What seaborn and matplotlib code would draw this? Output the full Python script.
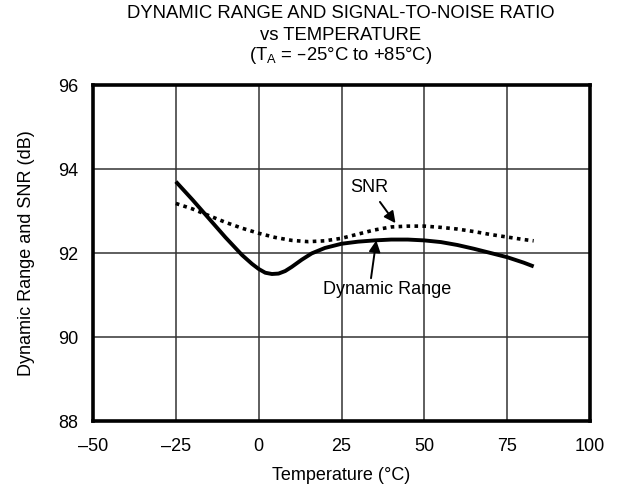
"""Dynamic range and SNR vs temperature chart."""

import matplotlib
matplotlib.use("Agg")
import matplotlib.pyplot as plt
import pandas as pd
import seaborn as sns

# Data
dr_temp = [-25, -20, -15, -10, -5, -2, 0, 2, 4, 6, 8, 10, 13, 16, 20, 25, 30, 35, 40, 45, 50, 55, 60, 65, 70, 75, 80, 83]
dr_db = [93.7, 93.27, 92.82, 92.37, 91.95, 91.74, 91.62, 91.53, 91.5, 91.51, 91.57, 91.67, 91.84, 91.99, 92.12, 92.22, 92.27, 92.3, 92.32, 92.32, 92.3, 92.26, 92.19, 92.1, 92.0, 91.9, 91.77, 91.68]

snr_temp = [-25, -20, -15, -10, -5, 0, 5, 10, 15, 20, 25, 30, 35, 40, 45, 50, 55, 60, 65, 70, 75, 80, 83]
snr_db = [93.18, 93.05, 92.89, 92.73, 92.59, 92.47, 92.37, 92.3, 92.27, 92.29, 92.35, 92.45, 92.55, 92.62, 92.64, 92.64, 92.61, 92.57, 92.51, 92.44, 92.38, 92.32, 92.29]

x_ticks = [-50, -25, 0, 25, 50, 75, 100]
y_ticks = [88, 90, 92, 94, 96]

dr_df = pd.DataFrame({"Temperature": dr_temp, "dB": dr_db})
snr_df = pd.DataFrame({"Temperature": snr_temp, "dB": snr_db})

sns.set_style("white")
plt.rcParams["font.family"] = ["Liberation Sans", "DejaVu Sans"]
plt.rcParams["text.color"] = "black"
plt.rcParams["axes.labelcolor"] = "black"
plt.rcParams["xtick.color"] = "black"
plt.rcParams["ytick.color"] = "black"

fs = 13

W, H = 622, 487
fig = plt.figure(figsize=(W / 100, H / 100), dpi=100)
ax = fig.add_axes([93 / W, 1 - 421 / H, 497 / W, 336 / H])

sns.lineplot(data=dr_df, x="Temperature", y="dB", ax=ax, color="black", linewidth=2.8,
             solid_joinstyle="round", solid_capstyle="butt")
sns.lineplot(data=snr_df, x="Temperature", y="dB", ax=ax, color="black", linewidth=2.6,
             linestyle=(0, (1.0, 1.2)))

ax.set_xlim(-50, 100)
ax.set_ylim(88, 96)
ax.set_xticks(x_ticks)
ax.set_yticks(y_ticks)
ax.set_xticklabels([f"{t}".replace("-", "\u2013") for t in x_ticks], fontsize=fs)
ax.set_yticklabels([str(t) for t in y_ticks], fontsize=fs)
ax.tick_params(axis="y", length=0, pad=10.5)
ax.tick_params(axis="x", length=0, pad=12)
ax.grid(True, color="#333333", linewidth=1.1)
for s in ax.spines.values():
    s.set_linewidth(2.6)
    s.set_color("black")

ax.set_xlabel("Temperature (\u00b0C)", fontsize=fs, labelpad=9)
ax.set_ylabel("Dynamic Range and SNR (dB)", fontsize=fs, labelpad=17)

# Title block
tx = 341 / W
fig.text(tx, 1 - 13 / H, "DYNAMIC RANGE AND SIGNAL-TO-NOISE RATIO", ha="center", va="center", fontsize=13.3)
fig.text(tx, 1 - 36 / H, "vs TEMPERATURE", ha="center", va="center", fontsize=13.3)
fig.text(tx, 1 - 56 / H, "(T$_\\mathregular{A}$ = \u201325\u00b0C to +85\u00b0C)", ha="center", va="center", fontsize=13.3)

# Annotations
ax.annotate("SNR", xy=(41.3, 92.71), xytext=(33.5, 93.55), ha="center", va="center", fontsize=fs,
            arrowprops=dict(arrowstyle="-|>", color="black", lw=1.4, shrinkA=2, shrinkB=0,
                            mutation_scale=17))
ax.annotate("Dynamic Range", xy=(35.5, 92.3), xytext=(38.8, 91.12), ha="center", va="center", fontsize=fs,
            arrowprops=dict(arrowstyle="-|>", color="black", lw=1.4, shrinkA=0, shrinkB=0,
                            mutation_scale=17, relpos=(0.37, 1.0)))

fig.savefig("out.png", dpi=100)
plt.close(fig)
